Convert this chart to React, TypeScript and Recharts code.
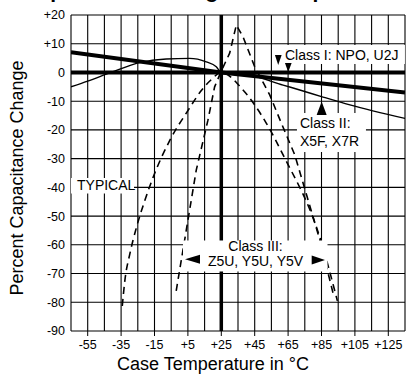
import React from 'react';
import { LineChart, Line, XAxis, YAxis, CartesianGrid, ReferenceLine, ReferenceDot } from 'recharts';

const FONT = "'Liberation Sans', Arial, Helvetica, sans-serif";

// axis ticks
const tempTicks = [-55, -35, -15, 5, 25, 45, 65, 85, 105, 125];
const gridTemps = [-65, -55, -45, -35, -25, -15, -5, 5, 15, 25, 35, 45, 55, 65, 75, 85, 95, 105, 115, 125, 135];
const pctTicks = [20, 10, 0, -10, -20, -30, -40, -50, -60, -70, -80, -90];

// Class I
const npoTemp = [-65, 135];
const npoPct = [0, 0];
const u2jTemp = [-65, 25, 135];
const u2jPct = [7, 0, -7];

// Class II
const x7rTemp = [-65, -55, -41, -24, -8, 6, 16, 22, 25, 42, 62, 72, 85, 102, 135];
const x7rPct = [-5, -3, 0, 3.4, 4.7, 4.9, 3.7, 2, 0, -0.9, -4.4, -6.1, -8.4, -11.3, -16];

// Class III
const z5uTemp = [-2, 4, 10, 17, 21, 25, 30, 34, 38, 45, 54, 61, 69, 84, 92];
const z5uPct = [-76, -55, -34, -16.6, -5, 0.5, 6.7, 16.5, 12.4, 2, -7.8, -17.7, -28.7, -58.3, -77];
const y5vTemp = [-34.3, -32.7, -29.7, -25.7, -20.7, -15.7, -5.7, 5.2, 13.3, 19, 25, 38, 52, 62, 84.5, 94.5];
const y5vPct = [-81.3, -72.2, -63, -53.7, -44.4, -36.3, -23.5, -13.1, -6.1, -2.5, 0, -6.1, -17.7, -28.7, -58.3, -79.5];

const toPts = (ts: number[], vs: number[]) => ts.map((t, i) => ({ t, v: vs[i] }));

const npo = toPts(npoTemp, npoPct);
const u2j = toPts(u2jTemp, u2jPct);
const x7r = toPts(x7rTemp, x7rPct);
const z5u = toPts(z5uTemp, z5uPct);
const y5v = toPts(y5vTemp, y5vPct);

const signed = (v: number) => (v > 0 ? `+${v}` : `${v}`);

const txt = { fontFamily: FONT, fontSize: 14, fill: '#000' };

const ClassILabel = ({ cx, cy }: any) => (
  <g>
    <rect x={cx - 2} y={cy - 15} width={122} height={19} fill="#fff" />
    <text x={cx} y={cy} {...txt}>Class I: NPO, U2J</text>
    <polygon points={`${cx - 10},${cy - 5} ${cx - 3.3},${cy - 5} ${cx - 6.7},${cy + 5}`} fill="#000" />
    <polygon points={`${cx},${cy + 3} ${cx + 6.7},${cy + 3} ${cx + 3.3},${cy + 12}`} fill="#000" />
  </g>
);

const ClassIILabel = ({ cx, cy }: any) => (
  <g>
    <rect x={cx - 3} y={cy - 15} width={69} height={39} fill="#fff" />
    <text x={cx} y={cy} {...txt}>Class II:</text>
    <text x={cx} y={cy + 18} {...txt}>X5F, X7R</text>
    <polygon points={`${cx + 16.7},${cy - 13} ${cx + 26.7},${cy - 13} ${cx + 21.7},${cy - 26.5}`} fill="#000" />
  </g>
);

const TypicalLabel = ({ cx, cy }: any) => (
  <g>
    <rect x={cx - 6} y={cy - 12} width={63} height={15.5} fill="#fff" />
    <text x={cx} y={cy} {...txt}>TYPICAL</text>
  </g>
);

const ClassIIILabel = ({ cx, cy }: any) => (
  <g>
    <rect x={cx - 72.5} y={cy - 25.5} width={144.5} height={31} fill="#fff" />
    <text x={cx} y={cy - 14.5} textAnchor="middle" {...txt}>Class III:</text>
    <text x={cx} y={cy} textAnchor="middle" {...txt}>Z5U, Y5U, Y5V</text>
    <polygon points={`${cx - 70.5},${cy - 6.7} ${cx - 55.5},${cy - 11.2} ${cx - 55.5},${cy - 2.2}`} fill="#000" />
    <polygon points={`${cx + 69.5},${cy - 6} ${cx + 56.2},${cy - 10.5} ${cx + 56.2},${cy - 1.5}`} fill="#000" />
  </g>
);

export default function App() {
  return (
    <div style={{ position: 'absolute', left: 0, top: 0, width: 411, height: 374, background: '#fff', overflow: 'hidden' }}>
      <LineChart width={411} height={374} margin={{ top: 15, right: 6, bottom: 0, left: 0 }}>
        <CartesianGrid vertical={false} stroke="#000" strokeWidth={1.1} />
        {gridTemps.map((t) => (
          <ReferenceLine key={`g${t}`} x={t} stroke="#000" strokeWidth={1.1} />
        ))}
        <ReferenceLine x={25} stroke="#000" strokeWidth={3.5} />
        <XAxis
          type="number"
          dataKey="t"
          domain={[-65, 135]}
          allowDataOverflow
          ticks={tempTicks}
          interval={0}
          tickFormatter={signed}
          axisLine={false}
          tickLine={{ stroke: '#000' }}
          tickSize={5}
          tickMargin={4}
          height={43}
          tick={{ fill: '#000', fontSize: 12.5, fontFamily: FONT }}
        />
        <YAxis
          type="number"
          domain={[-90, 20]}
          allowDataOverflow
          ticks={pctTicks}
          interval={0}
          tickFormatter={signed}
          axisLine={false}
          tickLine={false}
          tickSize={0}
          tickMargin={6}
          width={71}
          tick={{ fill: '#000', fontSize: 12.5, fontFamily: FONT }}
        />
        <Line data={npo} dataKey="v" type="linear" stroke="#000" strokeWidth={4} dot={false} isAnimationActive={false} />
        <Line data={u2j} dataKey="v" type="linear" stroke="#000" strokeWidth={4} dot={false} isAnimationActive={false} />
        <Line data={x7r} dataKey="v" type="monotone" stroke="#000" strokeWidth={1.4} dot={false} isAnimationActive={false} />
        <Line data={z5u} dataKey="v" type="linear" stroke="#000" strokeWidth={1.6} strokeDasharray="7 5" dot={false} isAnimationActive={false} />
        <Line data={y5v} dataKey="v" type="monotone" stroke="#000" strokeWidth={1.6} strokeDasharray="7 5" dot={false} isAnimationActive={false} />
        <ReferenceDot x={63.1} y={4.34} ifOverflow="visible" shape={ClassILabel} />
        <ReferenceDot x={72.1} y={-19.34} ifOverflow="visible" shape={ClassIILabel} />
        <ReferenceDot x={-61.4} y={-40.92} ifOverflow="visible" shape={TypicalLabel} />
        <ReferenceDot x={45.48} y={-67.37} ifOverflow="visible" shape={ClassIIILabel} />
      </LineChart>
      <svg width={411} height={374} style={{ position: 'absolute', left: 0, top: 0, pointerEvents: 'none' }}>
        <text x={210} y={-2} textAnchor="middle" fontFamily={FONT} fontSize={21} fontWeight="bold" fill="#000">
          Capacitance Change vs. Temperature
        </text>
        <text
          x={22.5}
          y={178}
          textAnchor="middle"
          transform="rotate(-90 22.5 178)"
          fontFamily={FONT}
          fontSize={18}
          fill="#000"
        >
          Percent Capacitance Change
        </text>
        <text x={213} y={370} textAnchor="middle" fontFamily={FONT} fontSize={18} fill="#000">
          Case Temperature in °C
        </text>
      </svg>
    </div>
  );
}
